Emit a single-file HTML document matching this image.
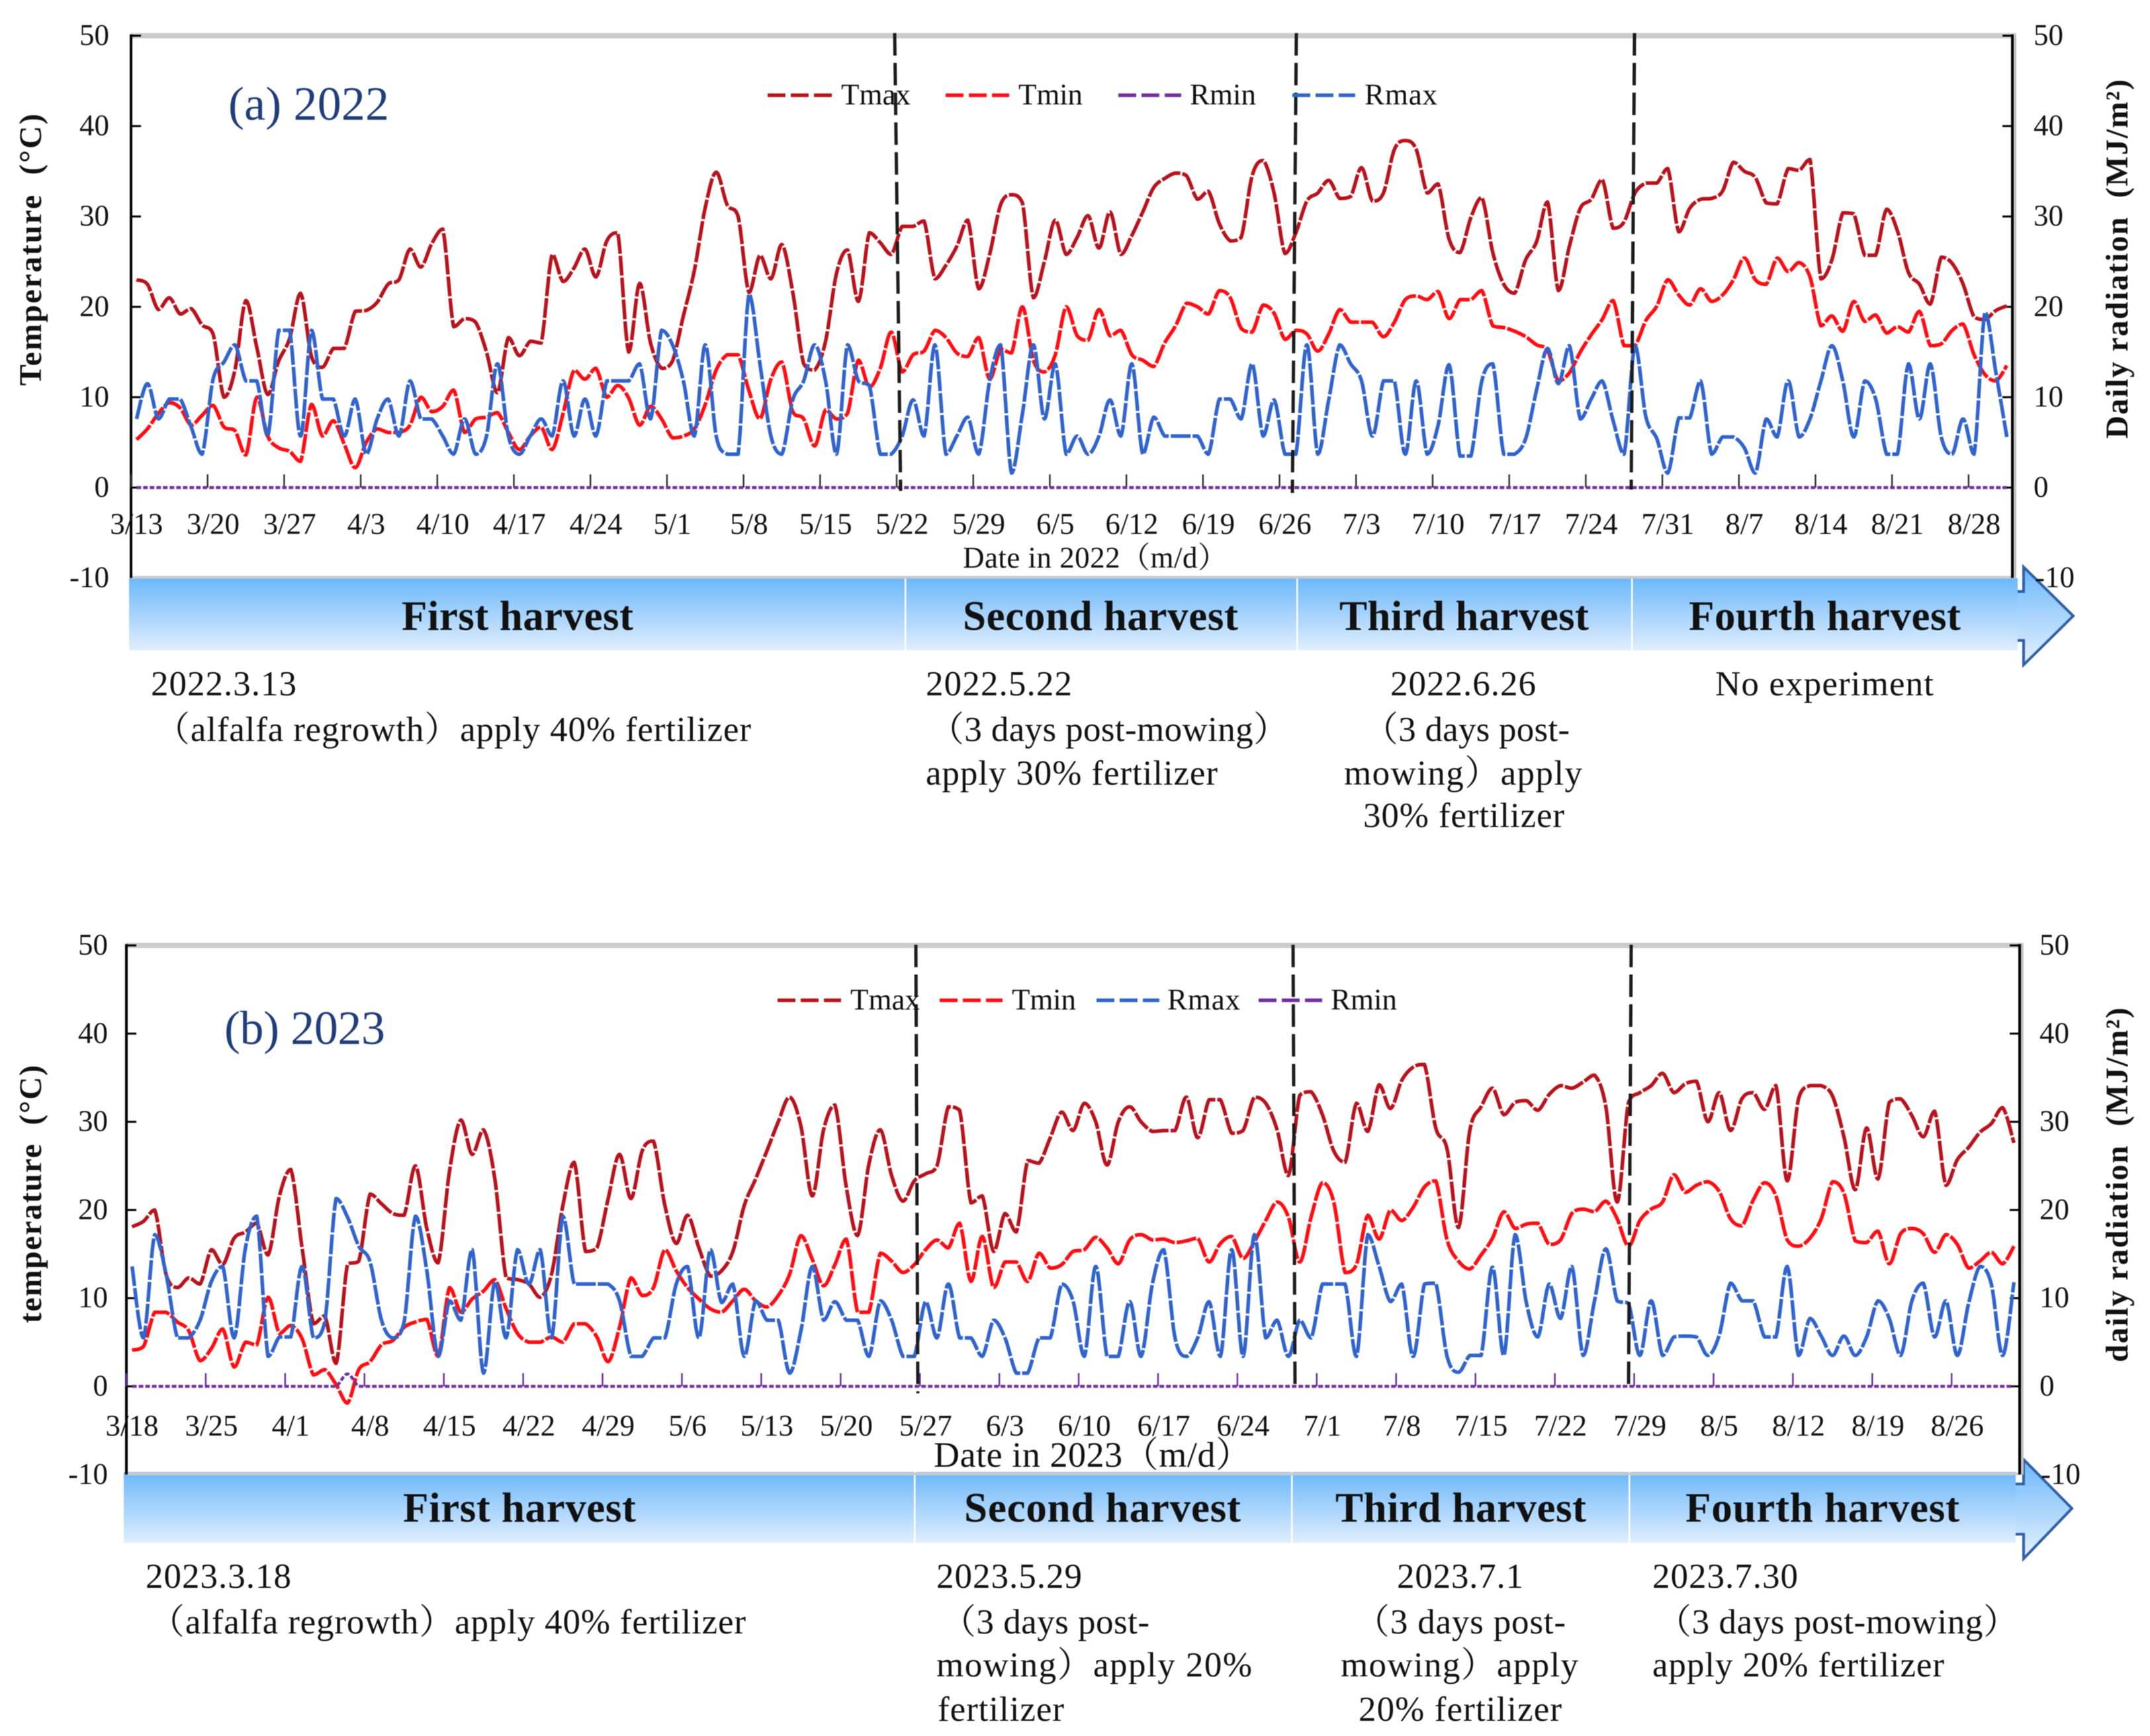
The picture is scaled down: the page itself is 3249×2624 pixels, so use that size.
<!DOCTYPE html>
<html lang="en">
<head>
<meta charset="utf-8">
<title>Temperature and radiation by harvest, 2022 and 2023</title>
<style>
html,body{margin:0;padding:0;background:#fff}
svg{display:block;filter:blur(0.6px)}
text{font-family:"Liberation Serif","Noto Serif CJK SC","Noto Sans CJK SC",serif;fill:#111}
.tick{font-size:45px}
.note{font-size:53px}
.harvest{font-size:63px;font-weight:bold}
.axis-title{font-size:48px;font-weight:bold}
.legend{font-size:45px}
.panel-title{font-size:72px;fill:#1f3d78}
</style>
</head>
<body>
<svg id="chart" xmlns="http://www.w3.org/2000/svg" width="3249" height="2624" viewBox="0 0 3249 2624">
<defs>
<linearGradient id="barA" gradientUnits="userSpaceOnUse" x1="0" y1="874" x2="0" y2="983"><stop offset="0" stop-color="#6cb8fb"/><stop offset="1" stop-color="#e0eefd"/></linearGradient>
<linearGradient id="arrowA" gradientUnits="userSpaceOnUse" x1="0" y1="857" x2="0" y2="1005"><stop offset="0" stop-color="#6cb8fb"/><stop offset="1" stop-color="#e6f1fe"/></linearGradient>
<linearGradient id="barB" gradientUnits="userSpaceOnUse" x1="0" y1="2225" x2="0" y2="2332"><stop offset="0" stop-color="#6cb8fb"/><stop offset="1" stop-color="#e0eefd"/></linearGradient>
<linearGradient id="arrowB" gradientUnits="userSpaceOnUse" x1="0" y1="2206" x2="0" y2="2356"><stop offset="0" stop-color="#6cb8fb"/><stop offset="1" stop-color="#e6f1fe"/></linearGradient>
</defs>

<g id="bars">
<polygon points="3058,894 3058,857 3133,931 3058,1005 3058,968 3040,968 3040,894" fill="url(#arrowA)" stroke="#2f5fa8" stroke-width="4"/>
<rect x="195" y="874" width="2854" height="109" fill="url(#barA)"/>
<rect x="1367" y="874" width="2.5" height="109" fill="#fff"/>
<rect x="1959" y="874" width="2.5" height="109" fill="#fff"/>
<rect x="2465" y="874" width="2.5" height="109" fill="#fff"/>
<polygon points="3058,2243 3058,2206 3131,2280 3058,2356 3058,2319 3036,2319 3036,2243" fill="url(#arrowB)" stroke="#2f5fa8" stroke-width="4"/>
<rect x="187" y="2225" width="2859" height="107" fill="url(#barB)"/>
<rect x="1381" y="2225" width="2.5" height="107" fill="#fff"/>
<rect x="1951" y="2225" width="2.5" height="107" fill="#fff"/>
<rect x="2461" y="2225" width="2.5" height="107" fill="#fff"/>
</g>

<g id="plotA"></g>
<g id="plotB"></g>

<g stroke="#1c1c1c" stroke-width="5" stroke-dasharray="34 11" fill="none">
<line x1="1352" y1="50" x2="1361" y2="742"/>
<line x1="1959" y1="50" x2="1953" y2="745"/>
<line x1="2470" y1="50" x2="2465" y2="740"/>
<line x1="1384" y1="1428" x2="1387" y2="2106"/>
<line x1="1954" y1="1428" x2="1957" y2="2100"/>
<line x1="2465" y1="1428" x2="2461" y2="2097"/>
</g>

<g>
<g><line x1="1160" x2="1257" y1="144" y2="144" stroke="#b8131c" stroke-width="5.5" stroke-dasharray="27 8"/><text class="legend" x="1271" y="158" textLength="105">Tmax</text></g>
<g><line x1="1429" x2="1525" y1="144" y2="144" stroke="#ff0d12" stroke-width="5.5" stroke-dasharray="27 8"/><text class="legend" x="1539" y="158" textLength="97">Tmin</text></g>
<g><line x1="1690" x2="1785" y1="144" y2="144" stroke="#7030a0" stroke-width="5.5" stroke-dasharray="27 8"/><text class="legend" x="1798" y="158" textLength="100">Rmin</text></g>
<g><line x1="1953" x2="2048" y1="144" y2="144" stroke="#3064cc" stroke-width="5.5" stroke-dasharray="27 8"/><text class="legend" x="2062" y="158" textLength="110">Rmax</text></g>
</g>
<g>
<g><line x1="1175" x2="1271" y1="1512" y2="1512" stroke="#b8131c" stroke-width="5.5" stroke-dasharray="27 8"/><text class="legend" x="1285" y="1526" textLength="105">Tmax</text></g>
<g><line x1="1420" x2="1515" y1="1512" y2="1512" stroke="#ff0d12" stroke-width="5.5" stroke-dasharray="27 8"/><text class="legend" x="1529" y="1526" textLength="97">Tmin</text></g>
<g><line x1="1657" x2="1752" y1="1512" y2="1512" stroke="#3064cc" stroke-width="5.5" stroke-dasharray="27 8"/><text class="legend" x="1764" y="1526" textLength="110">Rmax</text></g>
<g><line x1="1902" x2="1998" y1="1512" y2="1512" stroke="#7030a0" stroke-width="5.5" stroke-dasharray="27 8"/><text class="legend" x="2011" y="1526" textLength="100">Rmin</text></g>
</g>

<text class="panel-title" x="345" y="181" textLength="243">(a) 2022</text>
<text class="panel-title" x="339" y="1578" textLength="243">(b) 2023</text>

<text class="axis-title" transform="translate(62,583) rotate(-90)" textLength="411">Temperature&#160;&#160;(°C)</text>
<text class="axis-title" transform="translate(3215,663) rotate(-90)" textLength="543">Daily radiation&#160;&#160;(MJ/m²)</text>
<text class="axis-title" transform="translate(62,2000) rotate(-90)" textLength="390">temperature&#160;&#160;(°C)</text>
<text class="axis-title" transform="translate(3215,2059) rotate(-90)" textLength="536">daily radiation&#160;&#160;(MJ/m²)</text>

<text x="1455" y="858" font-size="45" textLength="400">Date in 2022（m/d）</text>
<text x="1411" y="2217" font-size="54" textLength="480">Date in 2023（m/d）</text>

<g>
<text class="harvest" x="607" y="952" textLength="350">First harvest</text>
<text class="harvest" x="1455" y="952" textLength="416">Second harvest</text>
<text class="harvest" x="2024" y="952" textLength="377">Third harvest</text>
<text class="harvest" x="2552" y="952" textLength="411">Fourth harvest</text>
</g>
<g>
<text class="harvest" x="609" y="2300" textLength="352">First harvest</text>
<text class="harvest" x="1457" y="2300" textLength="418">Second harvest</text>
<text class="harvest" x="2018" y="2300" textLength="379">Third harvest</text>
<text class="harvest" x="2547" y="2300" textLength="414">Fourth harvest</text>
</g>

<g>
<text class="note" x="228" y="1051" textLength="220">2022.3.13</text>
<text class="note" x="234" y="1120" textLength="901">（alfalfa regrowth）apply 40% fertilizer</text>
<text class="note" x="1399" y="1051" textLength="221">2022.5.22</text>
<text class="note" x="1404" y="1120" textLength="543">（3 days post-mowing）</text>
<text class="note" x="1399" y="1186" textLength="441">apply 30% fertilizer</text>
<text class="note" x="2101" y="1051" textLength="220">2022.6.26</text>
<text class="note" x="2060" y="1120" textLength="312">（3 days post-</text>
<text class="note" x="2031" y="1186" textLength="360">mowing）apply</text>
<text class="note" x="2060" y="1250" textLength="304">30% fertilizer</text>
<text class="note" x="2592" y="1051" textLength="330">No experiment</text>
</g>
<g>
<text class="note" x="220" y="2400" textLength="220">2023.3.18</text>
<text class="note" x="226" y="2469" textLength="901">（alfalfa regrowth）apply 40% fertilizer</text>
<text class="note" x="1415" y="2400" textLength="220">2023.5.29</text>
<text class="note" x="1422" y="2469" textLength="315">（3 days post-</text>
<text class="note" x="1415" y="2534" textLength="477">mowing）apply 20%</text>
<text class="note" x="1417" y="2601" textLength="191">fertilizer</text>
<text class="note" x="2111" y="2400" textLength="191">2023.7.1</text>
<text class="note" x="2047" y="2469" textLength="319">（3 days post-</text>
<text class="note" x="2026" y="2534" textLength="359">mowing）apply</text>
<text class="note" x="2053" y="2601" textLength="307">20% fertilizer</text>
<text class="note" x="2497" y="2400" textLength="220">2023.7.30</text>
<text class="note" x="2503" y="2469" textLength="547">（3 days post-mowing）</text>
<text class="note" x="2497" y="2534" textLength="441">apply 20% fertilizer</text>
</g>
</svg>

<script>
var yTickValues = [-10, 0, 10, 20, 30, 40, 50];

var datesA = ["3/13","3/20","3/27","4/3","4/10","4/17","4/24","5/1","5/8","5/15","5/22","5/29","6/5","6/12","6/19","6/26","7/3","7/10","7/17","7/24","7/31","8/7","8/14","8/21","8/28"];
var tmaxA = [23,22.5,19.7,21,19.2,19.8,18,17,10,13,
20.7,15.5,10.3,14,16.5,21.5,14.5,13.3,15.4,15.4,
19.5,19.6,20.5,22.5,23,26.4,24.4,27,28.6,17.8,
18.7,18.3,15,10.5,16.6,14.6,16.2,16,25.8,22.8,
24.3,26.4,23.3,27.3,28.2,15,22.6,16,13.2,14,
19,24,31,34.9,31.3,30,21.6,25.7,23.1,26.9,
21.6,13.7,13,16.2,23.7,26.3,20.6,28.2,27.1,25.8,
28.9,28.9,29.5,23.1,24.6,26.7,29.6,22,25.8,31.3,
32.4,31.5,21,25,29.6,25.8,27.7,30.1,26.5,30.5,
25.8,27.9,30.5,33.2,34.2,34.8,34.5,31.9,32.8,29.2,
27.3,27.7,34.5,36.2,32.6,25.9,28.2,31.7,32.6,34,
32,32.2,35.4,31.7,32.6,37.4,38.4,37.4,32.6,33.6,
27.5,26,29.9,32.1,26,22.5,21.5,25.2,27.2,31.6,
21.8,26.7,30.9,31.9,34.1,28.7,29.4,32.6,33.7,33.7,
35.3,28.3,30.9,31.9,32,32.8,36,35,34.3,31.5,
31.4,35.3,35.1,36.3,23.1,25.2,30.4,30.3,25.7,25.7,
30.8,28.4,23.8,22.5,20.3,25.5,24.8,22.5,18.9,18.6,19.6,20.1];
var tminA = [5.3,6.5,8.2,9.4,8.8,6.9,8,9.1,6.7,6.3,
3.6,10,5.7,4.4,4,2.9,9.2,5.7,7.4,4.8,
2.2,5,6.5,6.1,6.1,6.9,10,8.4,9,10.8,
6.1,7.6,7.8,8.3,6.1,4.2,5.7,6.7,4.2,8.2,
13,12,13.2,10,11.3,9.9,6.9,9,7.6,5.5,
5.7,6.5,9.2,13,14.7,14.7,10.7,7.6,12,13.9,
8.4,7.6,4.6,8.6,7.6,8.2,14.1,11.1,13.2,17.2,
12.8,14.7,15.1,17.4,16.6,14.9,14.5,16.6,12,15.3,
14.9,20,14.1,12.8,14.7,20,16.8,16.3,19.7,16.8,
17.4,14.7,14.1,13.4,16,17.9,20.4,20,19.2,21.8,
21,17.6,17.2,20.2,19.3,16.4,17.4,17,15.1,17,
19.7,18.3,18.3,18.3,16.7,18.3,20.8,21.2,20.8,21.7,
18.7,20.8,20.8,21.8,17.9,17.7,17.3,16.7,15.8,15.2,
11.8,12.7,15,16.9,18.6,20.7,15.7,15.7,18.5,20.1,
23,21.3,20.2,22,20.6,21.3,23,25.4,23,22.5,
25.4,23.9,24.9,23.3,17.9,19,17.3,20.6,18.4,19.1,
17.1,17.8,17.2,19.5,15.7,15.9,17.4,18.1,14.7,12.5,11.8,13.5];
var rmaxA = [7.6,11.5,7.6,9.8,9.8,6.7,3.7,12,13.9,15.8,
11.8,11.8,5.7,17.4,17.4,5.7,17.4,9.8,9.8,5.7,
9.8,3.7,7.6,9.8,5.7,11.8,7.6,7.6,5.7,3.7,
7.6,3.7,5.7,13.7,5.7,3.7,5.7,7.6,5.7,11.8,
5.7,9.8,5.7,11.8,11.8,11.8,13.7,7.6,17.4,15.8,
11.8,5.7,15.8,5.7,3.7,3.7,21.4,13.7,5.7,3.7,
9.7,11.8,15.8,11.8,3.7,15.8,11.8,11.3,3.7,3.7,
5.7,9.7,5.7,15.8,3.7,5.7,7.8,3.7,11.8,15.8,
1.6,8.2,15.8,7.6,13.7,3.7,5.7,3.7,5.7,9.7,
5.7,13.7,3.7,7.8,5.7,5.7,5.7,5.7,3.7,9.8,
9.8,7.6,13.7,5.7,9.7,3.7,3.7,15.8,3.7,9.7,
15.8,13.7,11.8,5.7,11.8,11.8,3.7,11.8,3.7,6.9,
13.6,3.5,3.5,11.8,13.7,3.7,3.7,5.4,10.8,15.4,
11.5,15.7,7.6,9.8,11.8,7.4,3.7,15.7,7.8,5.4,
1.6,7.7,7.7,11.8,3.7,5.6,5.6,4.4,1.6,7.6,
5.6,11.8,5.6,7.6,11.8,15.7,11.8,5.6,11.8,9.8,
3.7,3.7,13.7,7.6,13.7,5.6,3.7,7.6,3.7,19.4,12.7,5.6];
var rminA = [0,0,0,0,0,0,0,0,0,0,0,0,0,0,0,0,0,0,0,0,0,0,0,0,0,0,0,0,0,0,0,0,0,0,0,0,0,0,0,0,0,0,0,0,0,0,0,0,0,0,0,0,0,0,0,0,0,0,0,0,0,0,0,0,0,0,0,0,0,0,0,0,0,0,0,0,0,0,0,0,0,0,0,0,0,0,0,0,0,0,0,0,0,0,0,0,0,0,0,0,0,0,0,0,0,0,0,0,0,0,0,0,0,0,0,0,0,0,0,0,0,0,0,0,0,0,0,0,0,0,0,0,0,0,0,0,0,0,0,0,0,0,0,0,0,0,0,0,0,0,0,0,0,0,0,0,0,0,0,0,0,0,0,0,0,0,0,0,0,0,0,0];

var datesB = ["3/18","3/25","4/1","4/8","4/15","4/22","4/29","5/6","5/13","5/20","5/27","6/3","6/10","6/17","6/24","7/1","7/8","7/15","7/22","7/29","8/5","8/12","8/19","8/26"];
var tmaxB = [18.1,18.7,20,12.7,11.2,12.3,11.6,15.5,13.8,16.8,
17.5,18.5,14.9,21.6,24.6,15.7,7.1,8,2.6,13.8,
14.2,21.8,20.7,19.6,19.4,25,17.9,14,24.4,30.2,
26.3,29.1,23.5,12.3,12.1,11.6,10.1,12.7,20.5,25.4,
15.3,15.7,21.3,26.3,21.3,26.7,27.8,20.5,16.2,19.4,
15.7,12.5,13.1,15.3,20.5,23.5,26.7,30,32.8,29.5,
21.6,29.1,31.9,22.6,17.1,25.2,29.1,23.9,21,23.3,
24.1,25,31.7,31.3,20.8,21.6,15.3,19.6,17.5,25.6,
25.3,28.2,31.1,29,32.1,30,25.1,30,31.7,30,
28.9,29,29,32.8,28.2,32.5,32.5,28.7,29,32.8,
32.1,29.1,23.9,33,33.4,30.8,26.7,25.4,32.1,28.9,
34.2,31.5,34.7,36.2,36.5,29.3,26.9,18,29,31.7,
33.8,30.8,32.2,32.4,31.3,33.1,34.1,33.8,34.5,35.3,
31.7,20.9,32.2,33.3,34.1,35.5,33.3,34.3,34.6,30,
33.3,29,32.6,33.3,31.4,34.1,23.3,32.6,34.1,34.1,
32.9,28.3,22.3,29.3,23.5,32.2,32.6,30.7,28.3,31.2,
22.8,25.7,27.1,28.8,29.8,31.6,27.6];
var tminB = [4.1,4.5,8.4,8.4,7.3,6.3,2.9,4.3,6.5,2.2,
5,4.7,10.1,6,6.9,5.4,1.3,1.9,0.2,-1.9,
1.9,2.8,4.7,5.2,6.7,7.3,7.6,3.4,11.2,8.4,
9.9,10.8,12.1,8.8,6,5,5,5.6,5,7.1,
7.1,5.6,2.8,6.7,12.3,10.3,11.2,15.5,13.1,11.2,
9.9,8.8,8.4,9.7,11,9.7,9,10.3,12.7,17.1,
14.4,11.4,13.8,16.7,8.4,8.4,15.1,14.2,12.9,13.8,
15.5,16.6,15.7,18.5,11.9,17,11.2,14.1,14.1,11.9,
15.1,13.4,13.8,15.3,15.5,16.9,15.7,13.9,16.6,17.2,
16.6,16.7,16.3,16.5,16.8,14.1,16.2,17,14.5,16.4,
18.8,20.9,19.2,14.1,19.2,23.1,20.9,12.9,13.8,19.4,
16.7,20,18.8,20.3,22.6,23.3,16.6,14.2,13.3,14.9,
16.8,19.8,17.9,18.4,18.5,16.1,16.6,19.6,20.1,19.8,
21,19,15.9,18.8,20.1,20.9,24,22,22.8,23.2,
22.1,19,18.2,21.1,23.1,21.6,16.6,15.9,16.8,19,
23.2,21.9,16.5,16.3,17.6,13.9,17.3,17.9,17.3,15.2,
17.2,16.1,13.4,14.2,15.2,13.9,15.9];
var rmaxB = [13.6,5.5,17.2,12.7,5.5,5.5,7.5,11.9,13.6,5.5,
15.7,19.3,3.4,5.6,5.6,13.6,5.5,7.3,21.3,19.2,
15.9,14.1,7.5,5.5,7.3,19.3,13.1,3.4,9.7,7.5,
15.5,1.5,11.9,5.5,15.5,11.6,15.5,5.5,19.3,11.6,
11.6,11.6,11.6,9.7,3.4,3.4,5.5,5.5,11.6,13.6,
5.5,15.5,9.5,11.6,3.4,9.7,7.5,7.5,1.5,6.3,
13.6,7.5,9.6,7.5,7.5,3.4,9.7,7.5,3.4,3.4,
9.6,5.5,11.6,5.5,5.5,3.4,7.5,5.5,1.5,1.5,
5.5,5.5,11.6,9.7,3.4,13.6,3.4,3.4,9.6,3.4,
11.6,15.5,5.5,3.4,5.5,9.6,3.4,15.5,3.4,17.2,
5.5,7.5,3.4,7.5,5.5,11.6,11.6,11.6,3.4,17.2,
13.6,9.6,11.6,3.4,11.6,11.7,3.4,1.6,3.5,3.5,
13.5,3.5,17.2,9.4,5.6,11.6,7.7,13.6,3.5,9.7,
15.6,9.7,9.4,3.5,9.7,3.5,5.6,5.7,5.6,3.5,
5.8,11.7,9.7,9.7,5.6,5.6,13.6,3.5,7.7,5.7,
3.5,5.7,3.5,5.6,9.7,7.7,3.5,9.7,11.7,5.6,
9.7,3.5,9.4,13.6,11.6,3.5,11.8];
var rminB = [0,0,0,0,0,0,0,0,0,0,0,0,0,0,0,0,0,0,0,1.4,0,0,0,0,0,0,0,0,0,0,0,0,0,0,0,0,0,0,0,0,0,0,0,0,0,0,0,0,0,0,0,0,0,0,0,0,0,0,0,0,0,0,0,0,0,0,0,0,0,0,0,0,0,0,0,0,0,0,0,0,0,0,0,0,0,0,0,0,0,0,0,0,0,0,0,0,0,0,0,0,0,0,0,0,0,0,0,0,0,0,0,0,0,0,0,0,0,0,0,0,0,0,0,0,0,0,0,0,0,0,0,0,0,0,0,0,0,0,0,0,0,0,0,0,0,0,0,0,0,0,0,0,0,0,0,0,0,0,0,0,0,0,0,0,0,0,0];

var NS = 'http://www.w3.org/2000/svg';

function make(parent, tag, attrs, text) {
  var el = document.createElementNS(NS, tag);
  for (var k in attrs) el.setAttribute(k, attrs[k]);
  if (text !== undefined) el.textContent = text;
  parent.appendChild(el);
  return el;
}

function clampBetween(v, a, b) {
  return Math.max(Math.min(a, b), Math.min(Math.max(a, b), v));
}

function smoothPath(pts) {
  var d = 'M' + pts[0][0].toFixed(1) + ' ' + pts[0][1].toFixed(1);
  for (var i = 0; i < pts.length - 1; i++) {
    var p0 = pts[Math.max(i - 1, 0)], p1 = pts[i], p2 = pts[i + 1], p3 = pts[Math.min(i + 2, pts.length - 1)];
    var c1x = p1[0] + (p2[0] - p0[0]) / 6;
    var c1y = clampBetween(p1[1] + (p2[1] - p0[1]) / 6, p1[1], p2[1]);
    var c2x = p2[0] - (p3[0] - p1[0]) / 6;
    var c2y = clampBetween(p2[1] - (p3[1] - p1[1]) / 6, p1[1], p2[1]);
    d += 'C' + c1x.toFixed(1) + ' ' + c1y.toFixed(1) + ' ' + c2x.toFixed(1) + ' ' + c2y.toFixed(1) + ' ' + p2[0].toFixed(1) + ' ' + p2[1].toFixed(1);
  }
  return d;
}

function drawPanel(g, frame, dates, series) {
  var n = series[0].values.length;
  var band = (frame.right - frame.left) / n;
  var xBand = function (i) { return frame.left + i * band; };
  var xScale = function (i) { return frame.left + (i + 0.5) * band; };
  var yScale = function (v) { return frame.y0 - v * (frame.y0 - frame.y50) / 50; };
  var yBottom = yScale(-10);

  var top = make(g, 'rect', { x: frame.left, y: frame.y50 - 4, width: frame.right - frame.left + 6, height: 8, fill: '#cbcbcb' });
  
  

  var bottom = make(g, 'rect', { x: frame.left, y: yBottom - 3, width: frame.right - frame.left, height: 4, fill: '#cbcbcb' });
  
  

  var edge = make(g, 'rect', { x: frame.right + 2, y: frame.y50, width: 4, height: yBottom - frame.y50, fill: '#c4c4c4' });
  
  

  var leftAxis = make(g, 'line', { x1: frame.left, x2: frame.left, y1: frame.y50 - 2, y2: yBottom, stroke: '#000', 'stroke-width': 4 });
  
  

  var rightAxis = make(g, 'line', { x1: frame.right, x2: frame.right, y1: frame.y50 - 2, y2: yBottom, stroke: '#000', 'stroke-width': 4 });
  
  

  yTickValues.forEach(function (v) {
    var y = yScale(v);
    if (v !== -10) {
      var lt = make(g, 'line', { x1: frame.left, x2: frame.left + 15, y1: y, y2: y, stroke: '#000', 'stroke-width': 3 });
      
      
      var rt = make(g, 'line', { x1: frame.right - 15, x2: frame.right, y1: y, y2: y, stroke: '#000', 'stroke-width': 3 });
      
      
    }
    var ll = make(g, 'text', { 'class': 'tick', x: frame.labelLeft, y: y + 14, 'text-anchor': 'end' }, String(v));
    
    
    var rl = make(g, 'text', { 'class': 'tick', x: v === -10 ? frame.labelRight + 2 : frame.labelRight, y: y + 14 }, String(v));
    
    
  });

  dates.forEach(function (label, k) {
    var i = k * 7;
    var t = make(g, 'line', { x1: xBand(i), x2: xBand(i), y1: frame.y0 - 20, y2: frame.y0, stroke: frame.tickColor, 'stroke-width': 2.5 });
    
    
    var lab = make(g, 'text', { 'class': 'tick', x: xScale(i), y: frame.dateBaseline, 'text-anchor': 'middle' }, label);
    
    
  });

  series.forEach(function (s) {
    var pts = s.values.map(function (v, i) { return [xScale(i), yScale(v)]; });
    var p = make(g, 'path', { d: smoothPath(pts), fill: 'none', stroke: s.color, 'stroke-width': s.width, 'stroke-dasharray': s.dash, 'stroke-linejoin': 'round' });
    
    
  });
}

drawPanel(document.getElementById('plotA'),
  { left: 198, right: 3041, y50: 54, y0: 737, labelLeft: 165, labelRight: 3073, dateBaseline: 807, tickColor: '#333' },
  datesA,
  [
    { name: 'tmax-line', values: tmaxA, color: '#b8131c', width: 5.5, dash: '30 3' },
    { name: 'tmin-line', values: tminA, color: '#ff0d12', width: 5.5, dash: '30 3' },
    { name: 'rmin-line', values: rminA, color: '#7030a0', width: 4.5, dash: '7 3' },
    { name: 'rmax-line', values: rmaxA, color: '#3064cc', width: 5.5, dash: '30 3' }
  ]);

drawPanel(document.getElementById('plotB'),
  { left: 191, right: 3052, y50: 1429, y0: 2095.5, labelLeft: 163, labelRight: 3082, dateBaseline: 2170, tickColor: '#6a2fa0' },
  datesB,
  [
    { name: 'tmax-line', values: tmaxB, color: '#b8131c', width: 5.5, dash: '30 3' },
    { name: 'tmin-line', values: tminB, color: '#ff0d12', width: 5.5, dash: '30 3' },
    { name: 'rmax-line', values: rmaxB, color: '#3064cc', width: 5.5, dash: '30 3' },
    { name: 'rmin-line', values: rminB, color: '#7030a0', width: 4.5, dash: '7 3' }
  ]);
</script>
</body>
</html>
